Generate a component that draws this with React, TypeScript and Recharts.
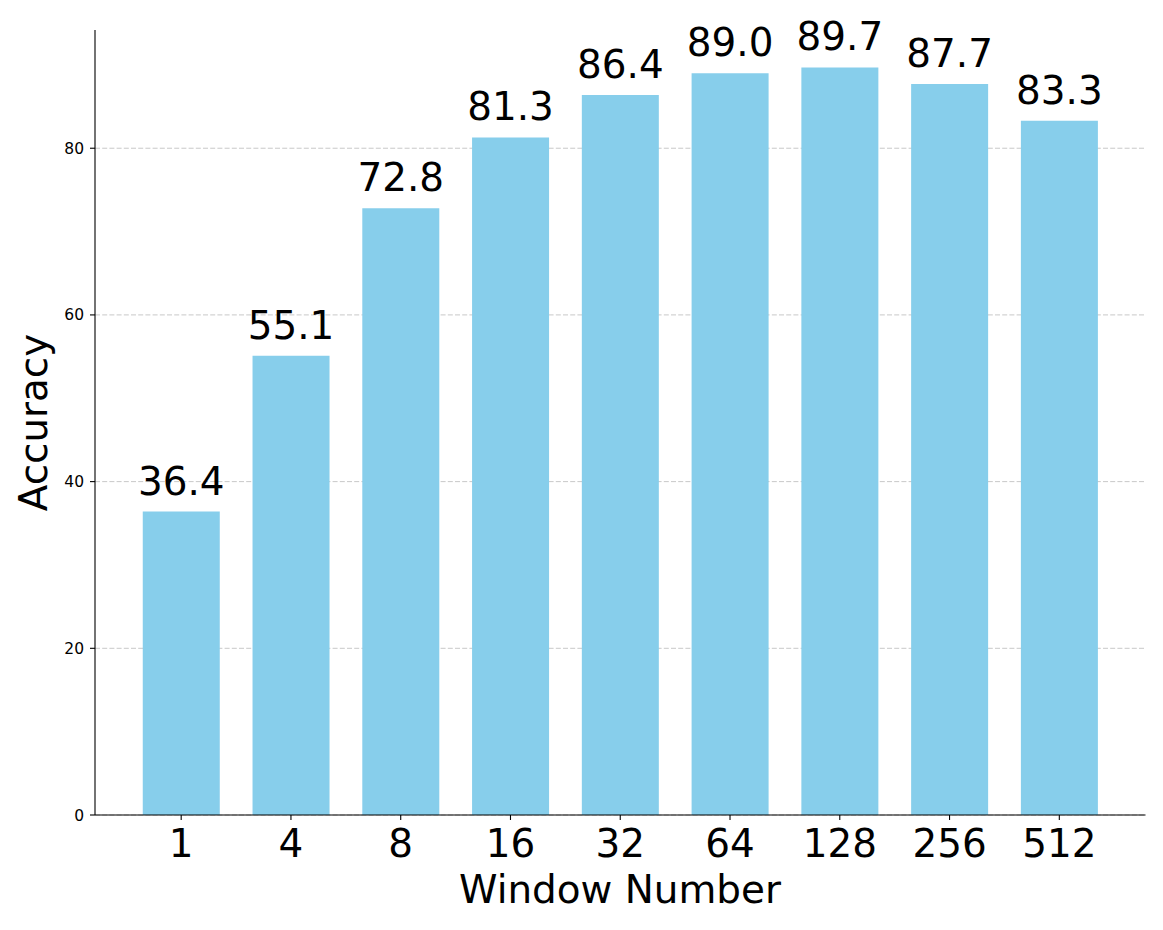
import React from 'react';
import { BarChart, Bar, XAxis, YAxis, CartesianGrid, LabelList } from 'recharts';

const categories = ['1', '4', '8', '16', '32', '64', '128', '256', '512'];
const accuracy = [36.4, 55.1, 72.8, 81.3, 86.4, 89.0, 89.7, 87.7, 83.3];
const yTicks = [0, 20, 40, 60, 80];
const xLabel = 'Window Number';
const yLabel = 'Accuracy';

const data = categories.map((c, i) => ({ window: c, accuracy: accuracy[i] }));

const FONT = '"DejaVu Sans", sans-serif';
const BIG = 38.9;

const YLabel = () => (
  <text
    x={47}
    y={422.5}
    transform="rotate(-90, 47, 422.5)"
    textAnchor="middle"
    fontSize={BIG}
    fontFamily={FONT}
    fill="#000"
  >
    {yLabel}
  </text>
);

const XLabel = () => (
  <text x={620} y={903} textAnchor="middle" fontSize={BIG} fontFamily={FONT} fill="#000">
    {xLabel}
  </text>
);

export default function App() {
  return (
    <div style={{ position: 'absolute', left: 0, top: 0, background: '#fff' }}>
      <BarChart
        width={1163}
        height={930}
        data={data}
        margin={{ top: 30, right: 17.5, left: 0, bottom: 0 }}
        barCategoryGap="15%"
      >
        <CartesianGrid
          vertical={false}
          horizontalValues={yTicks}
          stroke="#c8c8c8"
          strokeDasharray="5 2.2"
          strokeWidth={1}
        />
        <XAxis
          dataKey="window"
          height={115}
          padding={{ left: 31.3, right: 31.3 }}
          tickSize={5}
          tickMargin={9}
          tick={{ fontSize: BIG, fontFamily: FONT, fill: '#000' }}
          axisLine={{ stroke: '#000', strokeWidth: 1.1 }}
          tickLine={{ stroke: '#000', strokeWidth: 1.1 }}
          interval={0}
          label={<XLabel />}
        />
        <YAxis
          width={95}
          domain={[0, 94.185]}
          ticks={yTicks}
          tickSize={5}
          tickMargin={6}
          tick={{ fontSize: 15.5, fontFamily: FONT, fill: '#000' }}
          axisLine={{ stroke: '#000', strokeWidth: 1.1 }}
          tickLine={{ stroke: '#000', strokeWidth: 1.1 }}
          allowDataOverflow
          label={<YLabel />}
        />
        <Bar dataKey="accuracy" fill="#87CEEB" isAnimationActive={false}>
          <LabelList
            dataKey="accuracy"
            position="top"
            offset={17}
            formatter={(v: any) => Number(v).toFixed(1)}
            style={{ fontSize: BIG, fontFamily: FONT, fill: '#000' }}
          />
        </Bar>
      </BarChart>
    </div>
  );
}
